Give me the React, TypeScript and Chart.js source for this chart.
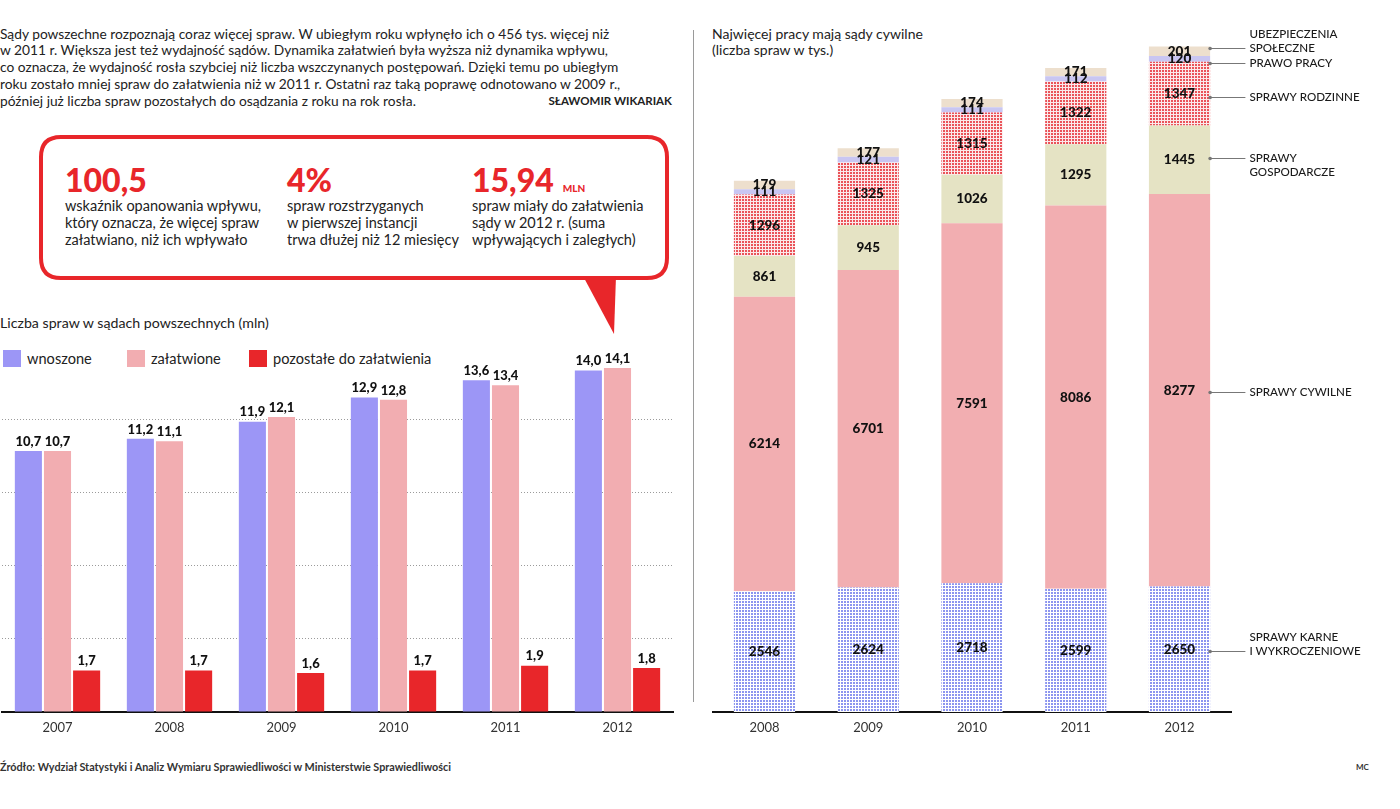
import { useEffect, useRef } from "react";
import { Chart, registerables } from "chart.js";

Chart.register(...registerables);

// Liczba spraw w sądach powszechnych (mln)
const years = ["2007", "2008", "2009", "2010", "2011", "2012"];
const filedCases = [10.7, 11.2, 11.9, 12.9, 13.6, 14.0];
const resolvedCases = [10.7, 11.1, 12.1, 12.8, 13.4, 14.1];
const pendingCases = [1.7, 1.7, 1.6, 1.7, 1.9, 1.8];
const courtLegend = ["wnoszone", "załatwione", "pozostałe do załatwienia"];

// Liczba spraw wg rodzaju (tys.)
const categoryYears = ["2008", "2009", "2010", "2011", "2012"];
const criminalCases = [2546, 2624, 2718, 2599, 2650];
const civilCases = [6214, 6701, 7591, 8086, 8277];
const commercialCases = [861, 945, 1026, 1295, 1445];
const familyCases = [1296, 1325, 1315, 1322, 1347];
const labourCases = [111, 121, 111, 112, 120];
const socialSecurityCases = [179, 177, 174, 171, 201];
const categoryNames = [
  ["SPRAWY KARNE", "I WYKROCZENIOWE"],
  ["SPRAWY CYWILNE"],
  ["SPRAWY", "GOSPODARCZE"],
  ["SPRAWY RODZINNE"],
  ["PRAWO PRACY"],
  ["UBEZPIECZENIA", "SPOŁECZNE"],
];

const introLines = [
  "Sądy powszechne rozpoznają coraz więcej spraw. W ubiegłym roku wpłynęło ich o 456 tys. więcej niż",
  "w 2011 r. Większa jest też wydajność sądów. Dynamika załatwień była wyższa niż dynamika wpływu,",
  "co oznacza, że wydajność rosła szybciej niż liczba wszczynanych postępowań. Dzięki temu po ubiegłym",
  "roku zostało mniej spraw do załatwienia niż w 2011 r. Ostatni raz taką poprawę odnotowano w 2009 r.,",
  "później już liczba spraw pozostałych do osądzania z roku na rok rosła.",
];

const highlights = [
  { value: "100,5", unit: "", left: 65, lines: ["wskaźnik opanowania wpływu,", "który oznacza, że więcej spraw", "załatwiano, niż ich wpływało"] },
  { value: "4%", unit: "", left: 287, lines: ["spraw rozstrzyganych", "w pierwszej instancji", "trwa dłużej niż 12 miesięcy"] },
  { value: "15,94", unit: "MLN", left: 472, lines: ["spraw miały do załatwienia", "sądy w 2012 r. (suma", "wpływających i zaległych)"] },
];

const RED = "#e8262a";
const FILED = "#9c96f6";
const RESOLVED = "#f2adb1";
const FONT = "Lato, 'Open Sans', sans-serif";

// which text line sits on the leader, and a small vertical nudge of the leader
const noteLayout = [
  { anchor: 1, dy: 2 },
  { anchor: 0, dy: 2 },
  { anchor: 0, dy: -2 },
  { anchor: 0, dy: 3 },
  { anchor: 0, dy: 4 },
  { anchor: 1, dy: -3 },
];

function gridPattern(bg: string, fg: string, size: number, cell: number) {
  const c = document.createElement("canvas");
  c.width = size;
  c.height = size;
  const g = c.getContext("2d")!;
  g.fillStyle = bg;
  g.fillRect(0, 0, size, size);
  g.fillStyle = fg;
  g.fillRect(0, 0, cell, cell);
  return g.createPattern(c, "repeat")!;
}

const barTopLabels = {
  id: "barTopLabels",
  afterDatasetsDraw(chart: any) {
    const ctx = chart.ctx;
    ctx.save();
    ctx.font = `900 13px ${FONT}`;
    ctx.fillStyle = "#111";
    ctx.textAlign = "center";
    ctx.textBaseline = "bottom";
    chart.data.datasets.forEach((ds: any, di: number) => {
      chart.getDatasetMeta(di).data.forEach((el: any, i: number) => {
        const { x, y } = el.getProps(["x", "y"], true);
        ctx.fillText(ds.data[i].toFixed(1).replace(".", ","), x, y - 3);
      });
    });
    ctx.restore();
  },
};

const segmentLabels = {
  id: "segmentLabels",
  afterDatasetsDraw(chart: any) {
    const ctx = chart.ctx;
    ctx.save();
    ctx.font = `900 13.5px ${FONT}`;
    ctx.fillStyle = "#111";
    ctx.textAlign = "center";
    ctx.textBaseline = "middle";
    chart.data.datasets.forEach((ds: any, di: number) => {
      chart.getDatasetMeta(di).data.forEach((el: any, i: number) => {
        const { x, y, base } = el.getProps(["x", "y", "base"], true);
        ctx.fillText(String(ds.data[i]), x, (y + base) / 2);
      });
    });

    // leaders naming each segment of the last column
    const last = chart.data.labels.length - 1;
    chart.data.datasets.forEach((_ds: any, di: number) => {
      const el = chart.getDatasetMeta(di).data[last];
      const { x, y, base, width } = el.getProps(["x", "y", "base", "width"], true);
      const lay = noteLayout[di];
      const ly = Math.round((y + base) / 2 + lay.dy) + 0.5;
      const x0 = x + width / 2;
      const x1 = chart.chartArea.right + 14;
      ctx.strokeStyle = "#777";
      ctx.lineWidth = 1;
      ctx.beginPath();
      ctx.moveTo(x0, ly);
      ctx.lineTo(x1, ly);
      ctx.stroke();
      ctx.fillStyle = "#777";
      ctx.beginPath();
      ctx.arc(x0, ly, 1.8, 0, Math.PI * 2);
      ctx.fill();
      ctx.fillStyle = "#1a1a1a";
      ctx.font = `500 11.6px ${FONT}`;
      ctx.textAlign = "left";
      ctx.textBaseline = "middle";
      categoryNames[di].forEach((t, li) => {
        ctx.fillText(t, x1 + 4, ly + (li - lay.anchor) * 14);
      });
    });
    ctx.restore();
  },
};

function CourtCasesChart() {
  const ref = useRef<HTMLCanvasElement>(null);
  useEffect(() => {
    const chart = new Chart(ref.current!, {
      type: "bar",
      data: {
        labels: years,
        datasets: [
          { label: courtLegend[0], data: filedCases, backgroundColor: FILED },
          { label: courtLegend[1], data: resolvedCases, backgroundColor: RESOLVED },
          { label: courtLegend[2], data: pendingCases, backgroundColor: RED },
        ],
      },
      options: {
        responsive: false,
        animation: false,
        devicePixelRatio: 1,
        layout: { padding: { left: 1.5, right: 6.5, top: 0, bottom: 0 } },
        datasets: { bar: { categoryPercentage: 0.78, barPercentage: 0.93 } },
        plugins: { legend: { display: false }, tooltip: { enabled: false } },
        scales: {
          x: {
            grid: { display: false, drawTicks: false },
            border: { display: true, color: "#111", width: 2 },
            ticks: { color: "#333", font: { family: FONT, size: 13 }, padding: 8 },
            afterFit: (s: any) => { s.height = 30; },
          },
          y: {
            min: 0,
            max: 18,
            ticks: { display: false, stepSize: 3 },
            grid: {
              drawTicks: false,
              color: (c: any) => (c.tick && c.tick.value > 0 && c.tick.value <= 12 ? "#9b9b9b" : "rgba(0,0,0,0)"),
            },
            border: { display: false, dash: [1, 2] },
            afterFit: (s: any) => { s.width = 0; },
          },
        },
      },
      plugins: [barTopLabels],
    } as any);
    return () => chart.destroy();
  }, []);
  return <canvas ref={ref} width={680} height={469} style={{ position: "absolute", left: 0, top: 273 }} />;
}

function CaseTypesChart() {
  const ref = useRef<HTMLCanvasElement>(null);
  useEffect(() => {
    const criminalFill = gridPattern("#ffffff", "#8c95ef", 3, 2);
    const familyFill = gridPattern("#fbe9ea", "#ea5359", 3, 2);
    const chart = new Chart(ref.current!, {
      type: "bar",
      data: {
        labels: categoryYears,
        datasets: [
          { label: categoryNames[0].join(" "), data: criminalCases, backgroundColor: criminalFill },
          { label: categoryNames[1].join(" "), data: civilCases, backgroundColor: "#f2aeb1" },
          { label: categoryNames[2].join(" "), data: commercialCases, backgroundColor: "#e5e3c4" },
          { label: categoryNames[3].join(" "), data: familyCases, backgroundColor: familyFill },
          { label: categoryNames[4].join(" "), data: labourCases, backgroundColor: "#c9c6f2" },
          { label: categoryNames[5].join(" "), data: socialSecurityCases, backgroundColor: "#eddfcd" },
        ],
      },
      options: {
        responsive: false,
        animation: false,
        devicePixelRatio: 1,
        layout: { padding: { left: 0.6, right: 168.6, top: 0, bottom: 0 } },
        datasets: { bar: { categoryPercentage: 0.59, barPercentage: 1 } },
        plugins: { legend: { display: false }, tooltip: { enabled: false } },
        scales: {
          x: {
            stacked: true,
            grid: { display: false, drawTicks: false },
            border: { display: true, color: "#111", width: 2 },
            ticks: { color: "#333", font: { family: FONT, size: 13 }, padding: 8 },
            afterFit: (s: any) => { s.height = 30; },
          },
          y: { stacked: true, display: false, min: 0, max: 15000 },
        },
      },
      plugins: [segmentLabels],
    } as any);
    return () => chart.destroy();
  }, []);
  return <canvas ref={ref} width={688} height={741} style={{ position: "absolute", left: 712, top: 1 }} />;
}

export default function App() {
  const legendColors = [FILED, RESOLVED, RED];
  const legendX = [3, 127, 249];
  return (
    <div
      style={{
        position: "fixed",
        left: 0,
        top: 0,
        width: 1400,
        height: 809,
        background: "#fff",
        fontFamily: FONT,
        color: "#222",
        overflow: "hidden",
      }}
    >
      <div style={{ position: "absolute", left: 0, top: 25.5, fontSize: 13.75, lineHeight: "16.75px", whiteSpace: "pre" }}>
        {introLines.map((l, i) => (
          <div key={i}>{l}</div>
        ))}
      </div>
      <div style={{ position: "absolute", right: 1400 - 672, top: 93, fontSize: 11.5, fontWeight: 700, lineHeight: "16px" }}>
        SŁAWOMIR WIKARIAK
      </div>

      <svg width={700} height={340} style={{ position: "absolute", left: 0, top: 0 }}>
        <path
          d="M 61 137 H 647 Q 667 137 667 157 V 258 Q 667 278 647 278 H 61 Q 41 278 41 258 V 157 Q 41 137 61 137 Z"
          fill="#fff"
          stroke={RED}
          strokeWidth={4}
        />
        <polygon points="583,276 616,276 614,334" fill={RED} />
      </svg>
      {highlights.map((h, i) => (
        <div key={i} style={{ position: "absolute", left: h.left, top: 163 }}>
          <div style={{ display: "flex", alignItems: "baseline", color: RED, fontWeight: 900 }}>
            <span style={{ fontSize: 32, lineHeight: "34px" }}>{h.value}</span>
            {h.unit && <span style={{ fontSize: 10, marginLeft: 9 }}>{h.unit}</span>}
          </div>
          <div style={{ fontSize: 14.5, lineHeight: "17px", marginTop: 0, whiteSpace: "pre", color: "#222" }}>
            {h.lines.map((l, j) => (
              <div key={j}>{l}</div>
            ))}
          </div>
        </div>
      ))}

      <div style={{ position: "absolute", left: 0, top: 314, fontSize: 14.2, lineHeight: "18px" }}>
        Liczba spraw w sądach powszechnych (mln)
      </div>
      {courtLegend.map((name, i) => (
        <div key={i} style={{ position: "absolute", left: legendX[i], top: 350, display: "flex", alignItems: "center" }}>
          <span style={{ width: 18, height: 17, background: legendColors[i], display: "inline-block" }} />
          <span style={{ fontSize: 14.6, marginLeft: 6, lineHeight: "17px" }}>{name}</span>
        </div>
      ))}

      <div style={{ position: "absolute", left: 693, top: 30, width: 1, height: 672, background: "#9a9a9a" }} />

      <div style={{ position: "absolute", left: 712, top: 25.5, fontSize: 14, lineHeight: "16.5px" }}>
        <div>Najwięcej pracy mają sądy cywilne</div>
        <div>(liczba spraw w tys.)</div>
      </div>

      <CourtCasesChart />
      <CaseTypesChart />

      <div style={{ position: "absolute", left: 0, top: 760, fontSize: 10.8, fontWeight: 700, lineHeight: "14px", color: "#333" }}>
        Źródło: Wydział Statystyki i Analiz Wymiaru Sprawiedliwości w Ministerstwie Sprawiedliwości
      </div>
      <div style={{ position: "absolute", left: 1356, top: 761, fontSize: 8, fontWeight: 700, lineHeight: "12px", color: "#333" }}>
        MC
      </div>
    </div>
  );
}
